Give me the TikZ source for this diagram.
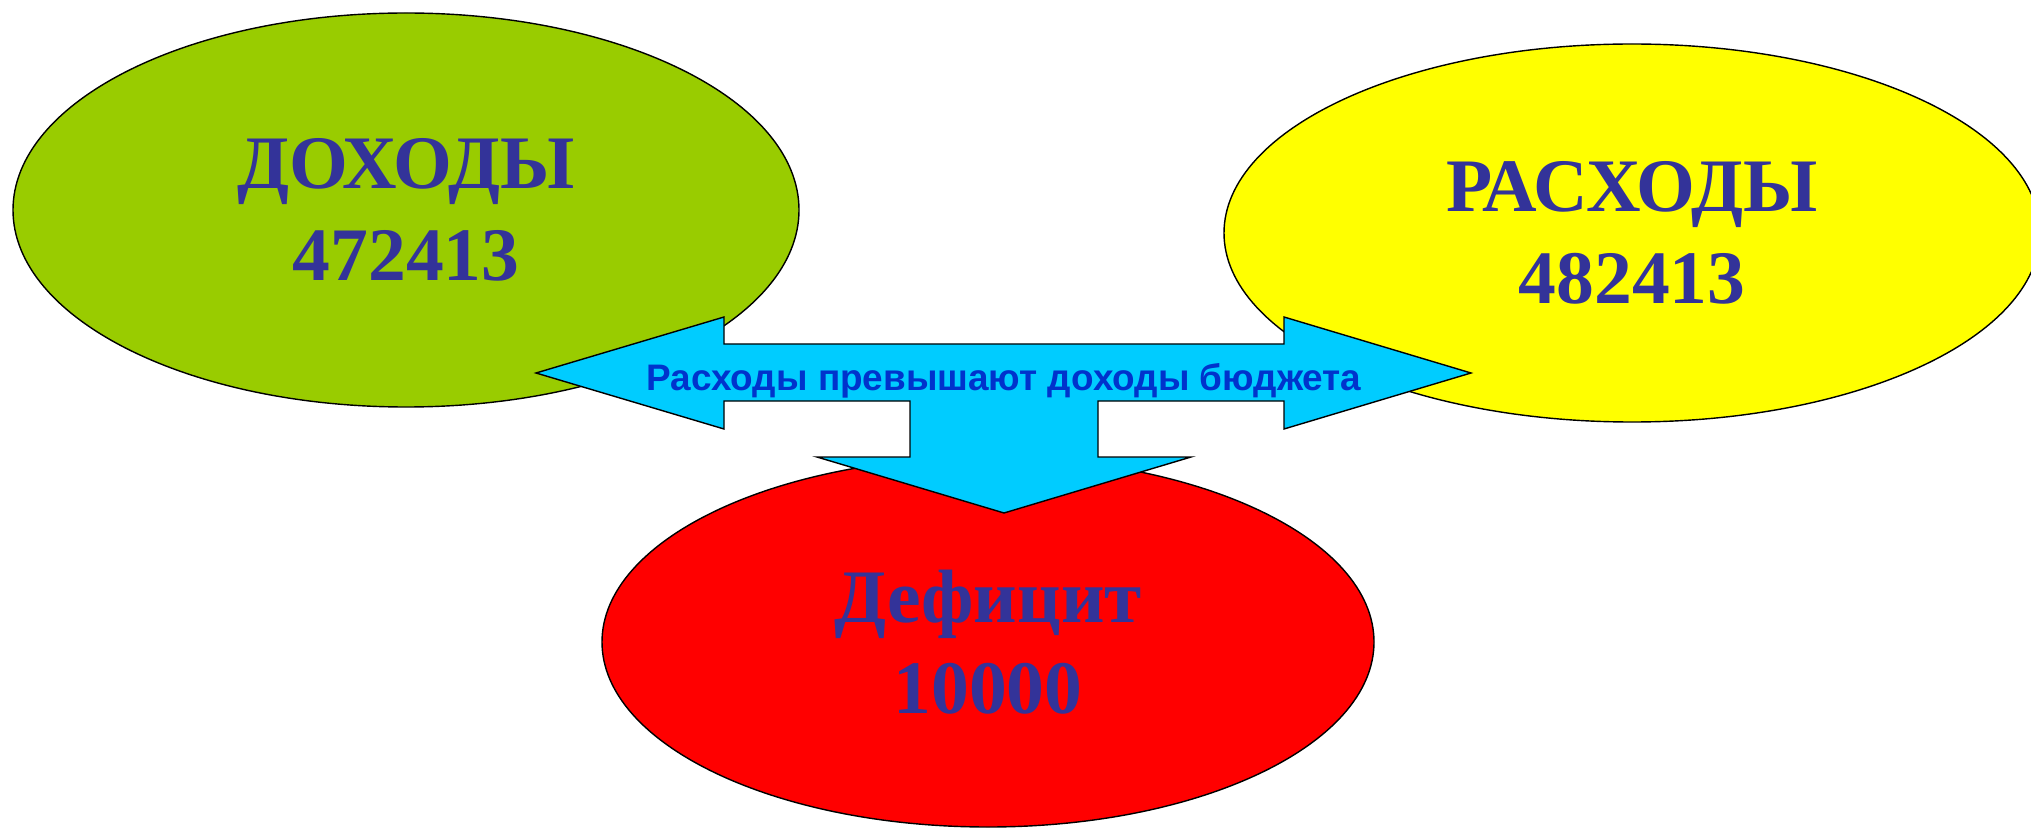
\documentclass[tikz,border=0pt]{standalone}
\usepackage{fontspec}
\setmainfont{Liberation Serif}
\setsansfont{Liberation Sans}
\usetikzlibrary{shapes.geometric}
\definecolor{incgreen}{HTML}{99CC00}
\definecolor{expyellow}{HTML}{FFFF00}
\definecolor{defred}{HTML}{FF0000}
\definecolor{arrcyan}{HTML}{00CCFF}
\definecolor{numblue}{HTML}{333399}
\definecolor{capblue}{HTML}{0033CC}

\begin{document}
\begin{tikzpicture}[line width=0.8pt]
  \tikzstyle{oval}=[ellipse,draw=black,inner sep=0pt,align=center,text=numblue,
    font=\fontsize{43}{52}\selectfont\bfseries]
  \tikzstyle{bigarrow}=[draw=black,fill=arrcyan,line join=miter]
  \clip (0,0) rectangle (40.62,16.56);

  \node[oval,fill=incgreen,minimum width=15.72cm,minimum height=7.88cm] (E_inc) at (8.12,12.36) {ДОХОДЫ\\472413};
  \node[oval,fill=expyellow,minimum width=16.32cm,minimum height=7.56cm] (E_exp) at (32.64,11.9) {РАСХОДЫ\\482413};
  \node[oval,fill=defred,minimum width=15.44cm,minimum height=7.4cm] (E_def) at (19.76,3.72) {Дефицит\\10000};

  \draw[bigarrow] (10.72,9.1) -- (14.48,10.22) -- (14.48,9.68) -- (25.68,9.68)
    -- (25.68,10.22) -- (29.42,9.1) -- (25.68,7.98) -- (25.68,8.54)
    -- (21.96,8.54) -- (21.96,7.42) -- (23.82,7.42) -- (20.08,6.3)
    -- (16.34,7.42) -- (18.2,7.42) -- (18.2,8.54) -- (14.48,8.54)
    -- (14.48,7.98) -- cycle;

  \node[anchor=base,text=capblue,font=\sffamily\bfseries\fontsize{21}{25}\selectfont] (T_arr) at (20.08,8.746) {Расходы превышают доходы бюджета};
\end{tikzpicture}
\end{document}
